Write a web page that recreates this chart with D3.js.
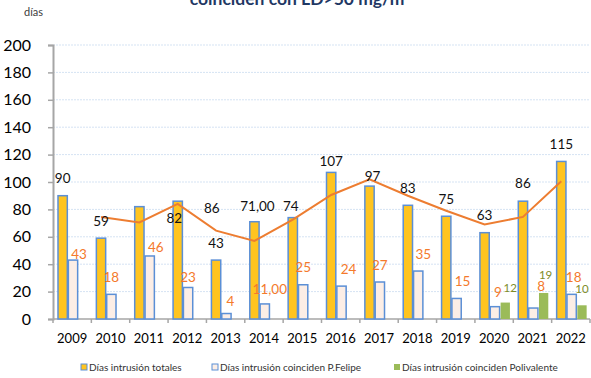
<!DOCTYPE html>
<html>
<head>
<meta charset="utf-8">
<script src="https://cdn.jsdelivr.net/npm/d3@7"></script>
<style>
  html, body { margin: 0; padding: 0; background: #fff; }
  svg { display: block; font-family: Lato, "Open Sans", sans-serif; }
</style>
</head>
<body>
<svg id="chart" width="591" height="378"></svg>
<script>
// Días de intrusión por año
const years = ["2009","2010","2011","2012","2013","2014","2015","2016","2017","2018","2019","2020","2021","2022"];
const totales = [90, 59, 82, 86, 43, 71, 74, 107, 97, 83, 75, 63, 86, 115];
const pFelipe = [43, 18, 46, 23, 4, 11, 25, 24, 27, 35, 15, 9, 8, 18];
const polivalente = [null, null, null, null, null, null, null, null, null, null, null, 12, 19, 10];
// tendencia (media móvil de dos periodos sobre los totales)
const tendencia = [null, 74.5, 70.5, 84, 64.5, 57, 72.5, 90.5, 102, 90, 79, 69, 74.5, 100.5];

const totalesText = ["90","59","82","86","43","71,00","74","107","97","83","75","63","86","115"];
const pFelipeText = ["43","18","46","23","4","11,00","25","24","27","35","15","9","8","18"];
const polivalenteText = [null,null,null,null,null,null,null,null,null,null,null,"12","19","10"];

const yTicks = [0, 20, 40, 60, 80, 100, 120, 140, 160, 180, 200];
const seriesNames = ["Días intrusión totales", "Días intrusión coinciden P.Felipe", "Días intrusión coinciden Polivalente"];

// label nudges [dx, dy] in px
const totalesNudge = [[0,0],[0,0],[35,29],[34,24],[0,0],[3,2],[-2,6],[0,6],[3,7],[0,0],[0,0],[0,0],[0,-1],[0,0]];
const pFelipeNudge = [[6,11],[0,0],[6,8],[0,7],[4,5],[5,2],[0,0],[7,0],[0,0],[5,0],[6,0],[3,3],[8,-5],[2,0]];
const polivalenteNudge = [[0,0],[0,0],[0,0],[0,0],[0,0],[0,0],[0,0],[0,0],[0,0],[0,0],[0,0],[5,2],[2,-1],[0,1]];

const svg = d3.select("#chart");
const plotLeft = 53, plotRight = 590, plotTop = 45, plotBottom = 319;

const x0 = d3.scaleBand().domain(years).range([plotLeft, plotRight]).padding(0);
const x1 = d3.scaleBand().domain(["tot","pf","pol"]).range([5, 35]).paddingInner(0.1).paddingOuter(0);
const y = d3.scaleLinear().domain([0, 200]).range([plotBottom, plotTop]);

const colors = { tot: "#FFC41F", pf: "#FCEEE6", pol: "#9BBB59", stroke: "#5B8FD6", line: "#ED7D31" };

// título (línea inferior)
svg.append("text")
  .attr("x", 300).attr("y", 5)
  .attr("text-anchor", "middle")
  .attr("font-weight", "bold")
  .attr("font-size", 17.5)
  .attr("fill", "#1F3864")
  .text("coinciden con LD>50 mg/m³");

svg.append("text")
  .attr("x", 24).attr("y", 16)
  .attr("font-size", 11)
  .attr("fill", "#404040")
  .text("días");

// gridlines
svg.append("g")
  .selectAll("line")
  .data(yTicks.filter(d => d > 0))
  .join("line")
  .attr("x1", plotLeft).attr("x2", plotRight)
  .attr("y1", d => y(d)).attr("y2", d => y(d))
  .attr("stroke", "#D5E3F3")
  .attr("stroke-width", 1)
  .attr("stroke-dasharray", "2,1");

// y axis
const yAxis = svg.append("g")
  .attr("transform", `translate(${plotLeft},0)`)
  .call(d3.axisLeft(y).tickValues(yTicks).tickSize(5).tickPadding(17));
yAxis.select(".domain").attr("stroke", "#A6A6A6").attr("stroke-width", 2);
yAxis.selectAll(".tick line").attr("stroke", "#A6A6A6").attr("stroke-width", 1.5);
yAxis.selectAll(".tick text").attr("font-size", 16).attr("fill", "#000").attr("font-family", "Lato, sans-serif");

// x axis with ticks at category boundaries
const xg = svg.append("g").attr("transform", `translate(0,${plotBottom})`);
xg.append("line").attr("x1", plotLeft).attr("x2", plotRight).attr("stroke", "#A6A6A6").attr("stroke-width", 1.5);
xg.selectAll("line.tk")
  .data(years.concat(["end"]))
  .join("line")
  .attr("class", "tk")
  .attr("x1", (d, i) => plotLeft + i * x0.step())
  .attr("x2", (d, i) => plotLeft + i * x0.step())
  .attr("y1", 0).attr("y2", 4)
  .attr("stroke", "#A6A6A6").attr("stroke-width", 1.5);
xg.selectAll("text")
  .data(years)
  .join("text")
  .attr("x", d => x0(d) + x0.bandwidth() / 2)
  .attr("y", 19)
  .attr("dy", "0.35em")
  .attr("text-anchor", "middle")
  .attr("font-size", 13)
  .attr("fill", "#000")
  .text(d => d);

// bars
const barData = [];
years.forEach((yr, i) => {
  barData.push({ yr, key: "tot", v: totales[i] });
  barData.push({ yr, key: "pf", v: pFelipe[i] });
  if (polivalente[i] != null) barData.push({ yr, key: "pol", v: polivalente[i] });
});

svg.append("g")
  .selectAll("rect")
  .data(barData)
  .join("rect")
  .attr("x", d => x0(d.yr) + x1(d.key))
  .attr("y", d => y(d.v))
  .attr("width", x1.bandwidth())
  .attr("height", d => y(0) - y(d.v))
  .attr("fill", d => colors[d.key])
  .attr("stroke", d => d.key === "pol" ? "none" : colors.stroke)
  .attr("stroke-width", 1.5);

// trend line through the centres of the total bars
const lineData = years.map((yr, i) => ({ yr, v: tendencia[i] })).filter(d => d.v != null);
svg.append("path")
  .datum(lineData)
  .attr("fill", "none")
  .attr("stroke", colors.line)
  .attr("stroke-width", 2)
  .attr("d", d3.line()
    .x(d => x0(d.yr) + x1("tot") + x1.bandwidth() / 2)
    .y(d => y(d.v)));

// value labels
function labels(values, texts, nudges, key, color, size) {
  svg.append("g")
    .selectAll("text")
    .data(years.map((yr, i) => ({ yr, v: values[i], t: texts[i], n: nudges[i] })).filter(d => d.v != null))
    .join("text")
    .attr("x", d => x0(d.yr) + x1(key) + x1.bandwidth() / 2 + d.n[0])
    .attr("y", d => y(d.v) - 17 + d.n[1])
    .attr("dy", "0.35em")
    .attr("text-anchor", "middle")
    .attr("font-size", size)
    .attr("fill", color)
    .text(d => d.t);
}
labels(totales, totalesText, totalesNudge, "tot", "#111", 13.5);
labels(pFelipe, pFelipeText, pFelipeNudge, "pf", "#F47A2C", 13.5);
labels(polivalente, polivalenteText, polivalenteNudge, "pol", "#7E8C27", 11.5);

// legend
const legendX = [81, 212, 394];
const legendFill = [colors.tot, colors.pf, colors.pol];
const legend = svg.append("g");
seriesNames.forEach((name, i) => {
  legend.append("rect")
    .attr("x", legendX[i]).attr("y", 364)
    .attr("width", 6).attr("height", 6)
    .attr("fill", legendFill[i])
    .attr("stroke", i < 2 ? colors.stroke : "none")
    .attr("stroke-width", 1);
  legend.append("text")
    .attr("x", legendX[i] + 8).attr("y", 367.5)
    .attr("dy", "0.35em")
    .attr("font-size", 10)
    .attr("fill", "#333")
    .text(name);
});
</script>
</body>
</html>
